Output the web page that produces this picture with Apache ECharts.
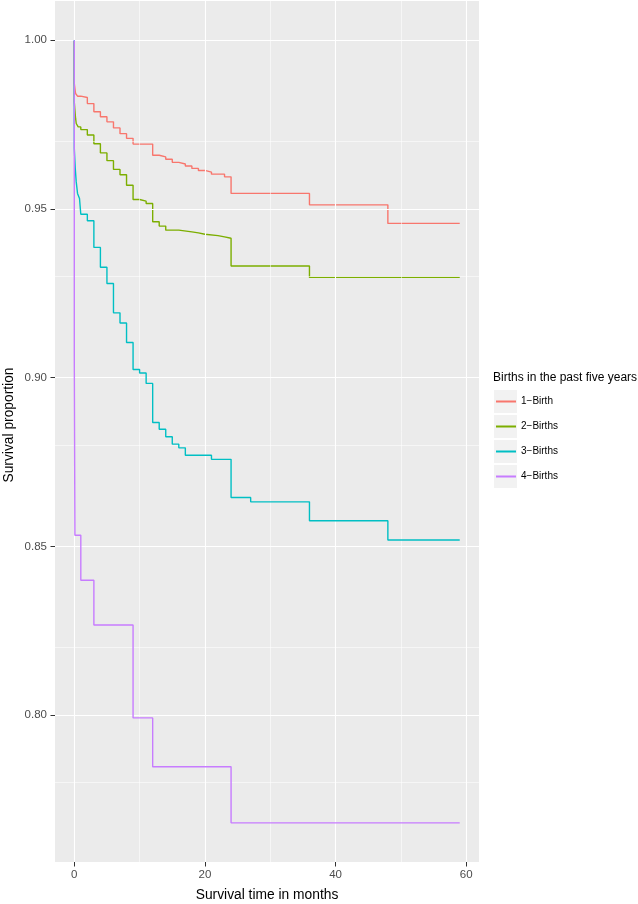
<!DOCTYPE html>
<html>
<head>
<meta charset="utf-8">
<script src="https://cdn.jsdelivr.net/npm/echarts@6/dist/echarts.min.js"></script>
<style>
html,body{margin:0;padding:0;background:#fff;}
#chart{width:638px;height:904px;}
</style>
</head>
<body>
<div id="chart"></div>
<script>
// ---- data ----
var seriesNames = ['1\u2212Birth', '2\u2212Births', '3\u2212Births', '4\u2212Births'];
var seriesColors = ['#F8766D', '#7CAE00', '#00BFC4', '#C77CFF'];

var birth1Time = [0, 0, 0.2, 0.5, 1, 2, 3, 4, 5, 6, 7, 8, 9, 12, 13, 14, 15, 16, 17, 18, 19, 20, 21, 23, 24, 36, 48, 59];
var birth1Surv = [1, 0.9872, 0.9842, 0.9834, 0.9830, 0.9812, 0.9788, 0.9773, 0.9758, 0.9740, 0.9723, 0.9709, 0.9692, 0.9659, 0.9654, 0.9647, 0.9638, 0.9633, 0.9627, 0.9620, 0.9614, 0.9609, 0.9603, 0.9595, 0.9546, 0.9512, 0.9457, 0.9457];

var birth2Time = [0, 0, 0.2, 0.3, 0.6, 1, 2, 3, 4, 5, 6, 7, 8, 9, 10, 11, 12, 13, 14, 16, 18, 19, 20, 22, 23, 24, 36, 59];
var birth2Surv = [1, 0.9817, 0.9768, 0.9753, 0.9743, 0.9735, 0.9719, 0.9693, 0.9666, 0.9643, 0.9617, 0.9601, 0.9570, 0.9528, 0.9523, 0.9516, 0.9462, 0.9449, 0.9437, 0.9432, 0.9429, 0.9425, 0.9421, 0.9417, 0.9413, 0.9331, 0.9297, 0.9297];

var birth3Time = [0, 0, 0.15, 0.3, 0.5, 0.8, 1, 2, 3, 4, 5, 6, 7, 8, 9, 10, 11, 12, 13, 14, 15, 16, 17, 21, 24, 27, 36, 48, 59];
var birth3Surv = [1, 0.968, 0.962, 0.958, 0.9546, 0.9531, 0.9484, 0.9465, 0.9386, 0.9327, 0.9279, 0.9192, 0.9162, 0.9104, 0.9024, 0.9014, 0.8983, 0.8867, 0.8847, 0.8825, 0.8803, 0.8792, 0.8770, 0.8758, 0.8645, 0.8632, 0.8576, 0.8519, 0.8519];

var birth4Time = [0, 0, 0.1, 1, 3, 9, 12, 24, 59];
var birth4Surv = [1, 0.9067, 0.8533, 0.8400, 0.8267, 0.7992, 0.7847, 0.7681, 0.7681];

var xTickLabels = [0, 20, 40, 60];
var xMinorGrid = [10, 30, 50];
var yTickLabels = [0.80, 0.85, 0.90, 0.95, 1.00];
var yMinorGrid = [0.775, 0.825, 0.875, 0.925, 0.975];

var xTitle = 'Survival time in months';
var yTitle = 'Survival proportion';
var legendTitle = 'Births in the past five years';

var xRange = [-2.95, 61.95];
var yRange = [0.7565, 1.0116];

// ---- build ----
function pairs(t, s) { return t.map(function (v, i) { return [v, s[i]]; }); }
var curves = [
  pairs(birth1Time, birth1Surv),
  pairs(birth2Time, birth2Surv),
  pairs(birth3Time, birth3Surv),
  pairs(birth4Time, birth4Surv)
];

var gridLines = [];
xTickLabels.forEach(function (v) { gridLines.push({ xAxis: v, lineStyle: { width: 1.1 } }); });
xMinorGrid.forEach(function (v) { gridLines.push({ xAxis: v, lineStyle: { width: 0.55 } }); });
yTickLabels.forEach(function (v) { gridLines.push({ yAxis: v, lineStyle: { width: 1.1 } }); });
yMinorGrid.forEach(function (v) { gridLines.push({ yAxis: v, lineStyle: { width: 0.55 } }); });

var series = [{
  type: 'line',
  data: [],
  z: 1,
  silent: true,
  markLine: {
    silent: true,
    symbol: ['none', 'none'],
    label: { show: false },
    lineStyle: { color: '#FFFFFF', type: 'solid', width: 1 },
    emphasis: { disabled: true },
    animation: false,
    data: gridLines
  }
}];
curves.forEach(function (d, i) {
  series.push({
    name: seriesNames[i],
    type: 'line',
    step: 'end',
    data: d,
    showSymbol: false,
    symbol: 'none',
    z: 3 + i,
    lineStyle: { color: seriesColors[i], width: 1.4 },
    itemStyle: { color: seriesColors[i] }
  });
});

var graphics = seriesNames.map(function (n, i) {
  return {
    type: 'rect',
    left: 494,
    top: 390 + i * 25,
    shape: { width: 23, height: 23 },
    style: { fill: '#F2F2F2' },
    z: -1
  };
});
graphics.push({
  type: 'text',
  x: 9,
  y: 425,
  rotation: Math.PI / 2,
  style: {
    text: yTitle,
    fontSize: 13.8,
    fontFamily: 'Liberation Sans, Arial, sans-serif',
    fill: '#000000',
    align: 'center',
    verticalAlign: 'middle'
  }
});

var chart = echarts.init(document.getElementById('chart'), null, { renderer: 'canvas' });
chart.setOption({
  animation: false,
  backgroundColor: '#FFFFFF',
  textStyle: { fontFamily: 'Liberation Sans, Arial, sans-serif' },
  title: {
    text: legendTitle,
    left: 493,
    top: 372,
    padding: 0,
    textStyle: { fontSize: 12, fontWeight: 'normal', color: '#000000', fontFamily: 'Liberation Sans, Arial, sans-serif' }
  },
  legend: {
    orient: 'vertical',
    left: 496,
    top: 389,
    padding: 0,
    itemGap: 0,
    itemWidth: 20,
    itemHeight: 2,
    icon: 'rect',
    selectedMode: false,
    data: seriesNames,
    textStyle: { fontSize: 10, lineHeight: 25, color: '#000000', fontFamily: 'Liberation Sans, Arial, sans-serif' }
  },
  graphic: graphics,
  grid: {
    left: 55, right: 159, top: 1, bottom: 42,
    show: true, backgroundColor: '#EBEBEB', borderWidth: 0,
    containLabel: false,
    outerBoundsMode: 'none'
  },
  xAxis: {
    type: 'value',
    min: xRange[0], max: xRange[1],
    name: xTitle,
    nameLocation: 'middle',
    nameGap: 26,
    nameTextStyle: { fontSize: 13.8, color: '#000000' },
    axisLine: { show: true, onZero: false, lineStyle: { color: 'rgba(0,0,0,0)' } },
    splitLine: { show: false },
    axisTick: { show: true, length: 4.5, customValues: xTickLabels, lineStyle: { color: '#333333', width: 1 } },
    axisLabel: { customValues: xTickLabels, margin: 7, fontSize: 11.5, color: '#4D4D4D', showMinLabel: true, showMaxLabel: true }
  },
  yAxis: {
    type: 'value',
    min: yRange[0], max: yRange[1],
    axisLine: { show: true, onZero: false, lineStyle: { color: 'rgba(0,0,0,0)' } },
    splitLine: { show: false },
    axisTick: { show: true, length: 4.5, customValues: yTickLabels, lineStyle: { color: '#333333', width: 1 } },
    axisLabel: {
      customValues: yTickLabels, margin: 8, fontSize: 11.5, color: '#4D4D4D',
      formatter: function (v) { return v.toFixed(2); }
    }
  },
  series: series
});
</script>
</body>
</html>
